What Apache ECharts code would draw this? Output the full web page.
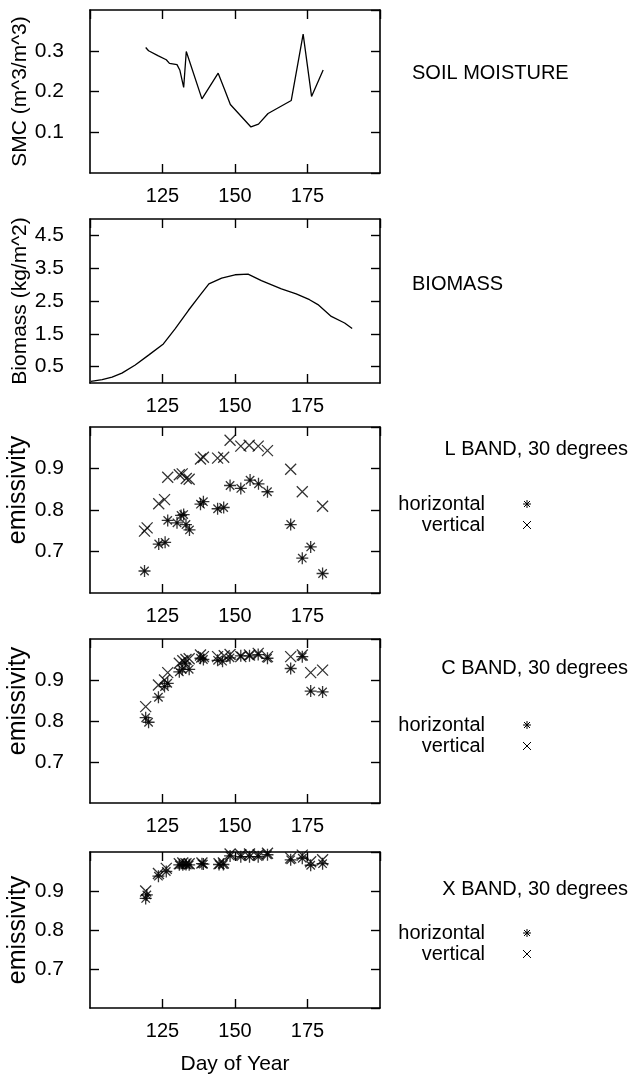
<!DOCTYPE html>
<html>
<head>
<meta charset="utf-8">
<script src="https://cdn.jsdelivr.net/npm/echarts@6/dist/echarts.min.js"></script>
<style>
html,body{margin:0;padding:0;background:#fff;}
#c{width:629px;height:1079px;}
</style>
</head>
<body>
<div id="c"></div>
<script>
// ---------- data ----------
const xTicks = [125, 150, 175];

const smcDays = [119.2, 120.2, 123.4, 126.3, 127.4, 130.0, 131.0, 132.3, 133.2, 138.6, 144.2, 146.3, 148.4, 155.5, 158.1, 161.4, 169.4, 173.5, 176.4, 180.4];
const smcVals = [0.308, 0.300, 0.288, 0.278, 0.269, 0.266, 0.252, 0.210, 0.298, 0.182, 0.245, 0.207, 0.168, 0.113, 0.120, 0.146, 0.178, 0.341, 0.188, 0.253];

const bioDays = [100.3, 104.2, 107.6, 111.0, 115.6, 120.2, 125.3, 129.4, 133.9, 137.9, 141.0, 145.4, 150.0, 154.5, 159.1, 166.0, 171.1, 175.7, 178.6, 183.2, 187.8, 190.4];
const bioVals = [0.05, 0.10, 0.18, 0.30, 0.55, 0.85, 1.19, 1.66, 2.21, 2.67, 3.02, 3.20, 3.30, 3.32, 3.12, 2.87, 2.72, 2.54, 2.39, 2.03, 1.83, 1.66];
const bioTicks = [0.5, 1.5, 2.5, 3.5, 4.5];

const lHDays = [118.8, 123.7, 125.9, 126.8, 130.0, 131.4, 132.3, 133.1, 134.3, 138.1, 139.1, 144.0, 146.1, 148.3, 152.0, 155.2, 158.1, 161.2, 169.2, 173.2, 176.1, 180.2];
const lHVals = [0.653, 0.718, 0.722, 0.775, 0.769, 0.787, 0.789, 0.765, 0.752, 0.814, 0.820, 0.803, 0.806, 0.859, 0.852, 0.872, 0.863, 0.844, 0.765, 0.684, 0.711, 0.647];
const lVDays = [118.8, 119.7, 123.7, 125.7, 126.8, 130.8, 131.8, 133.2, 134.2, 138.1, 139.1, 144.0, 146.1, 148.3, 152.0, 154.9, 158.0, 161.2, 169.2, 173.2, 180.2];
const lVVals = [0.749, 0.757, 0.815, 0.825, 0.879, 0.885, 0.887, 0.876, 0.874, 0.923, 0.927, 0.925, 0.927, 0.968, 0.954, 0.956, 0.954, 0.943, 0.898, 0.844, 0.809];

const cHDays = [119.2, 120.2, 123.6, 125.7, 126.8, 130.8, 131.8, 132.8, 134.2, 138.1, 139.1, 144.0, 145.7, 148.3, 152.0, 155.0, 158.0, 161.2, 169.2, 173.2, 176.1, 180.2];
const cHVals = [0.808, 0.797, 0.858, 0.884, 0.892, 0.920, 0.926, 0.941, 0.926, 0.953, 0.950, 0.948, 0.946, 0.954, 0.959, 0.959, 0.962, 0.953, 0.928, 0.957, 0.873, 0.871];
const cVDays = [119.2, 123.6, 125.7, 126.8, 130.8, 132.0, 133.1, 134.2, 138.1, 139.1, 144.0, 146.3, 148.3, 152.0, 155.0, 158.0, 161.2, 169.2, 173.2, 176.1, 180.2];
const cVVals = [0.835, 0.888, 0.900, 0.918, 0.941, 0.947, 0.950, 0.952, 0.961, 0.957, 0.957, 0.959, 0.962, 0.957, 0.961, 0.965, 0.957, 0.957, 0.961, 0.918, 0.924];

const xHDays = [119.2, 119.6, 123.6, 126.3, 130.8, 132.0, 133.1, 134.2, 138.6, 139.1, 144.5, 146.0, 148.3, 152.0, 155.0, 158.0, 161.2, 169.2, 173.2, 176.1, 180.2];
const xHVals = [0.881, 0.890, 0.938, 0.950, 0.967, 0.967, 0.968, 0.967, 0.970, 0.969, 0.968, 0.968, 0.990, 0.988, 0.988, 0.988, 0.993, 0.980, 0.984, 0.966, 0.970];
const xVDays = [119.2, 123.6, 126.3, 130.8, 132.0, 133.1, 134.2, 138.6, 144.5, 146.0, 148.3, 152.0, 155.0, 158.0, 161.2, 169.2, 173.2, 176.1, 180.2];
const xVVals = [0.900, 0.945, 0.958, 0.970, 0.972, 0.970, 0.970, 0.972, 0.970, 0.972, 0.995, 0.993, 0.995, 0.993, 0.997, 0.985, 0.992, 0.975, 0.980];

const panelTitles = ['SOIL MOISTURE', 'BIOMASS', 'L BAND, 30 degrees', 'C BAND, 30 degrees', 'X BAND, 30 degrees'];
const yNames = ['SMC (m^3/m^3)', 'Biomass (kg/m^2)', 'emissivity', 'emissivity', 'emissivity'];
const legendNames = ['horizontal', 'vertical'];

// ---------- helpers ----------
const FONT = "'Liberation Sans', Arial, Helvetica, sans-serif";
const zip = (a, b) => a.map((d, i) => [d, b[i]]);
const STAR = 'path://M5 0L5 10M0 5L10 5M1.5 1.5L8.5 8.5M8.5 1.5L1.5 8.5M4 4L6 4L6 6L4 6Z';
const CROSS = 'path://M0 0L10 10M10 0L0 10';

const grids = [
  {left: 90, top: 10, width: 290, height: 163},
  {left: 90, top: 219, width: 290, height: 164},
  {left: 90, top: 427, width: 290, height: 166},
  {left: 90, top: 639, width: 290, height: 164},
  {left: 90, top: 852, width: 290, height: 156}
];

const yRanges = [
  {min: 0, max: 0.4, interval: 0.1},
  {min: 0, max: 5, custom: bioTicks},
  {min: 0.6, max: 1.0, interval: 0.1},
  {min: 0.6, max: 1.0, interval: 0.1},
  {min: 0.6, max: 1.0, interval: 0.1}
];

const lineStyleAxis = {color: '#000', width: 1.6};
const xAxes = [], yAxes = [];
grids.forEach((g, i) => {
  ['bottom', 'top'].forEach(pos => {
    xAxes.push({
      gridIndex: i, type: 'value', position: pos, min: 100, max: 200, interval: 25,
      axisLine: {show: true, onZero: false, lineStyle: lineStyleAxis},
      axisTick: {show: true, inside: true, length: 9, lineStyle: {color: '#000', width: 1.4}},
      axisLabel: {show: pos === 'bottom', showMinLabel: false, showMaxLabel: false,
        fontSize: 20, color: '#000', fontFamily: FONT, margin: 13},
      splitLine: {show: false},
      name: (i === 4 && pos === 'bottom') ? 'Day of Year' : '',
      nameLocation: 'middle', nameGap: 46,
      nameTextStyle: {fontSize: 21, color: '#000', fontFamily: FONT}
    });
  });
  const r = yRanges[i];
  ['left', 'right'].forEach(pos => {
    const ax = {
      gridIndex: i, type: 'value', position: pos, min: r.min, max: r.max,
      axisLine: {show: true, onZero: false, lineStyle: lineStyleAxis},
      axisTick: {show: true, inside: true, length: 9, lineStyle: {color: '#000', width: 1.4}},
      axisLabel: {show: pos === 'left', showMinLabel: false, showMaxLabel: false,
        fontSize: 21, color: '#000', fontFamily: FONT, margin: 26,
        formatter: v => Number(v).toFixed(1)},
      splitLine: {show: false},
      name: pos === 'left' ? yNames[i] : '',
      nameLocation: 'middle', nameRotate: 90, nameGap: 59,
      nameTextStyle: {fontSize: i >= 2 ? 25 : 21, color: '#000', fontFamily: FONT,
        padding: (i === 2 || i === 3) ? [0, 0, 0, 40] : 0}
    };
    if (r.custom) {
      ax.axisTick.customValues = r.custom;
      ax.axisLabel.customValues = r.custom;
      ax.axisLabel.showMinLabel = true;
      ax.axisLabel.showMaxLabel = true;
    } else {
      ax.interval = r.interval;
    }
    yAxes.push(ax);
  });
});

const lineSeries = (i, data) => ({
  type: 'line', xAxisIndex: 2 * i, yAxisIndex: 2 * i, data: data,
  showSymbol: false, symbol: 'none', smooth: false,
  lineStyle: {color: '#000', width: 1.3}, animation: false, silent: true
});
const scatterSeries = (i, data, sym, size) => ({
  type: 'scatter', xAxisIndex: 2 * i, yAxisIndex: 2 * i, data: data,
  symbol: sym, symbolSize: size, clip: true,
  itemStyle: {color: '#000', borderColor: '#000', borderWidth: 1.3},
  animation: false, silent: true
});

const series = [
  lineSeries(0, zip(smcDays, smcVals)),
  lineSeries(1, zip(bioDays, bioVals)),
  scatterSeries(2, zip(lHDays, lHVals), STAR, 12),
  scatterSeries(2, zip(lVDays, lVVals), CROSS, 11),
  scatterSeries(3, zip(cHDays, cHVals), STAR, 12),
  scatterSeries(3, zip(cVDays, cVVals), CROSS, 11),
  scatterSeries(4, zip(xHDays, xHVals), STAR, 12),
  scatterSeries(4, zip(xVDays, xVVals), CROSS, 11)
];

// ---------- right-hand annotations ----------
const txt = (text, x, y, align) => ({
  type: 'text', x: x, y: y, silent: true,
  style: {text: text, fill: '#000', fontSize: 20, fontFamily: FONT,
    align: align, verticalAlign: 'middle'}
});
const seg = (x1, y1, x2, y2) => ({
  type: 'line', silent: true,
  shape: {x1: x1, y1: y1, x2: x2, y2: y2},
  style: {stroke: '#000', lineWidth: 1}
});
const legendBlock = (yH, yV) => {
  const cx = 527;
  return [
    txt(legendNames[0], 485, yH, 'right'),
    txt(legendNames[1], 485, yV, 'right'),
    seg(cx, yH - 4, cx, yH + 4), seg(cx - 4, yH, cx + 4, yH),
    seg(cx - 3, yH - 3, cx + 3, yH + 3), seg(cx + 3, yH - 3, cx - 3, yH + 3),
    seg(cx - 4, yV - 4, cx + 4, yV + 4), seg(cx + 4, yV - 4, cx - 4, yV + 4)
  ];
};

const graphics = [
  txt(panelTitles[0], 412, 73, 'left'),
  txt(panelTitles[1], 412, 284, 'left'),
  txt(panelTitles[2], 628, 449, 'right'),
  txt(panelTitles[3], 628, 668, 'right'),
  txt(panelTitles[4], 628, 889, 'right'),
  ...legendBlock(504, 525),
  ...legendBlock(725, 746),
  ...legendBlock(933, 954)
];

const chart = echarts.init(document.getElementById('c'), null, {renderer: 'canvas'});
chart.setOption({
  animation: false,
  backgroundColor: '#fff',
  grid: grids,
  xAxis: xAxes,
  yAxis: yAxes,
  series: series,
  graphic: graphics
});
</script>
</body>
</html>
